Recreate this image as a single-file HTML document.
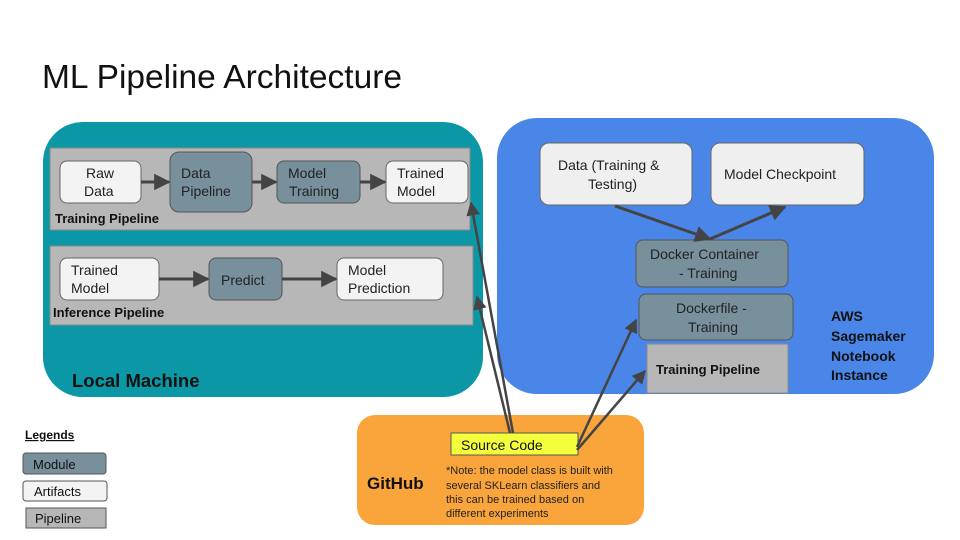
<!DOCTYPE html>
<html><head><meta charset="utf-8"><style>
html,body{margin:0;padding:0;background:#fff}
svg{display:block;font-family:"Liberation Sans",Arial,sans-serif}
</style></head><body>
<svg width="960" height="540" viewBox="0 0 960 540" xmlns="http://www.w3.org/2000/svg">
<defs>
<marker id="a" viewBox="0 0 10 10" refX="9" refY="5" markerWidth="5.5" markerHeight="5.5" orient="auto"><path d="M0,0 L10,5 L0,10 z" fill="#444"/></marker>
</defs>
<text x="42" y="88" font-size="33.5" fill="#111">ML Pipeline Architecture</text>

<!-- Local machine -->
<rect x="43" y="122" width="440" height="275" rx="40" fill="#0b97a6"/>
<rect x="50" y="148" width="420" height="82" fill="#b7b7b7" stroke="#888" stroke-width="1"/>
<rect x="60" y="161" width="81" height="42" rx="7" fill="#f3f3f3" stroke="#666"/>
<text font-size="14" fill="#222"><tspan x="86" y="178">Raw</tspan><tspan x="84" y="196">Data</tspan></text>
<rect x="170" y="152" width="82" height="60" rx="9" fill="#78909c" stroke="#555"/>
<text font-size="14" fill="#222"><tspan x="181" y="178">Data</tspan><tspan x="181" y="196">Pipeline</tspan></text>
<rect x="277" y="161" width="83" height="42" rx="7" fill="#78909c" stroke="#555"/>
<text font-size="14" fill="#222"><tspan x="288" y="178">Model</tspan><tspan x="289" y="196">Training</tspan></text>
<rect x="386" y="161" width="82" height="42" rx="7" fill="#f3f3f3" stroke="#666"/>
<text font-size="14" fill="#222"><tspan x="397" y="178">Trained</tspan><tspan x="397" y="196">Model</tspan></text>
<text x="55" y="223" font-size="13" font-weight="bold" fill="#111">Training Pipeline</text>
<line x1="141" y1="182" x2="169" y2="182" stroke="#444" stroke-width="3" marker-end="url(#a)"/>
<line x1="252" y1="182" x2="276" y2="182" stroke="#444" stroke-width="3" marker-end="url(#a)"/>
<line x1="360" y1="182" x2="385" y2="182" stroke="#444" stroke-width="3" marker-end="url(#a)"/>

<rect x="50" y="246" width="423" height="79" fill="#b7b7b7" stroke="#888"/>
<rect x="60" y="258" width="99" height="42" rx="7" fill="#f3f3f3" stroke="#666"/>
<text font-size="14" fill="#222"><tspan x="71" y="275">Trained</tspan><tspan x="71" y="293">Model</tspan></text>
<rect x="209" y="258" width="73" height="42" rx="7" fill="#78909c" stroke="#555"/>
<text x="221" y="285" font-size="14" fill="#222">Predict</text>
<rect x="337" y="258" width="106" height="42" rx="7" fill="#f3f3f3" stroke="#666"/>
<text font-size="14" fill="#222"><tspan x="348" y="275">Model</tspan><tspan x="348" y="293">Prediction</tspan></text>
<text x="53" y="317" font-size="13" font-weight="bold" fill="#111">Inference Pipeline</text>
<line x1="159" y1="279" x2="208" y2="279" stroke="#444" stroke-width="3" marker-end="url(#a)"/>
<line x1="282" y1="279" x2="336" y2="279" stroke="#444" stroke-width="3" marker-end="url(#a)"/>
<text x="72" y="387" font-size="18.5" font-weight="bold" fill="#111">Local Machine</text>

<!-- AWS -->
<rect x="497" y="118" width="437" height="276" rx="40" fill="#4a86e8"/>
<rect x="540" y="143" width="152" height="62" rx="9" fill="#efefef" stroke="#666"/>
<text font-size="14" fill="#222"><tspan x="558" y="170">Data (Training &amp;</tspan><tspan x="588" y="189">Testing)</tspan></text>
<rect x="711" y="143" width="153" height="62" rx="9" fill="#efefef" stroke="#666"/>
<text x="724" y="179" font-size="14" fill="#222">Model Checkpoint</text>
<rect x="636" y="240" width="152" height="47" rx="7" fill="#78909c" stroke="#555"/>
<text font-size="14" fill="#222"><tspan x="650" y="259">Docker Container</tspan><tspan x="679" y="278">- Training</tspan></text>
<rect x="639" y="294" width="154" height="46" rx="7" fill="#78909c" stroke="#555"/>
<text font-size="14" fill="#222"><tspan x="676" y="313">Dockerfile -</tspan><tspan x="688" y="332">Training</tspan></text>
<rect x="647" y="344" width="141" height="49" fill="#b7b7b7" stroke="#888"/>
<text x="656" y="374" font-size="13" font-weight="bold" fill="#111">Training Pipeline</text>
<text font-size="14" font-weight="bold" fill="#111"><tspan x="831" y="321">AWS</tspan><tspan x="831" y="341">Sagemaker</tspan><tspan x="831" y="361">Notebook</tspan><tspan x="831" y="380">Instance</tspan></text>
<line x1="615" y1="206" x2="710" y2="239" stroke="#444" stroke-width="3" marker-end="url(#a)"/>
<line x1="710" y1="239" x2="785" y2="207" stroke="#444" stroke-width="3" marker-end="url(#a)"/>

<!-- GitHub -->
<rect x="357" y="415" width="287" height="110" rx="18" fill="#f9a53b"/>
<rect x="451" y="433" width="127" height="22" fill="#f4ff3c" stroke="#555"/>
<text x="461" y="450" font-size="14" fill="#111">Source Code</text>
<text x="367" y="489" font-size="17" font-weight="bold" fill="#111">GitHub</text>
<text font-size="11" fill="#222"><tspan x="446" y="474">*Note: the model class is built with</tspan><tspan x="446" y="489">several SKLearn classifiers and</tspan><tspan x="446" y="503">this can be trained based on</tspan><tspan x="446" y="517">different experiments</tspan></text>

<line x1="513" y1="433" x2="471" y2="203" stroke="#444" stroke-width="2.5" marker-end="url(#a)"/>
<line x1="510" y1="433" x2="477" y2="297" stroke="#444" stroke-width="2.5" marker-end="url(#a)"/>
<line x1="577" y1="447" x2="636" y2="320" stroke="#444" stroke-width="2.5" marker-end="url(#a)"/>
<line x1="577" y1="450" x2="645" y2="371" stroke="#444" stroke-width="2.5" marker-end="url(#a)"/>

<!-- Legend -->
<text x="25" y="439" font-size="12" font-weight="bold" fill="#111" text-decoration="underline">Legends</text>
<rect x="23" y="453" width="83" height="21" rx="3" fill="#78909c" stroke="#555"/>
<text x="33" y="469" font-size="13" fill="#111">Module</text>
<rect x="23" y="481" width="84" height="20" rx="3" fill="#f3f3f3" stroke="#555"/>
<text x="34" y="496" font-size="13" fill="#111">Artifacts</text>
<rect x="26" y="508" width="80" height="20" fill="#b7b7b7" stroke="#555"/>
<text x="35" y="523" font-size="13" fill="#111">Pipeline</text>
</svg>
</body></html>
